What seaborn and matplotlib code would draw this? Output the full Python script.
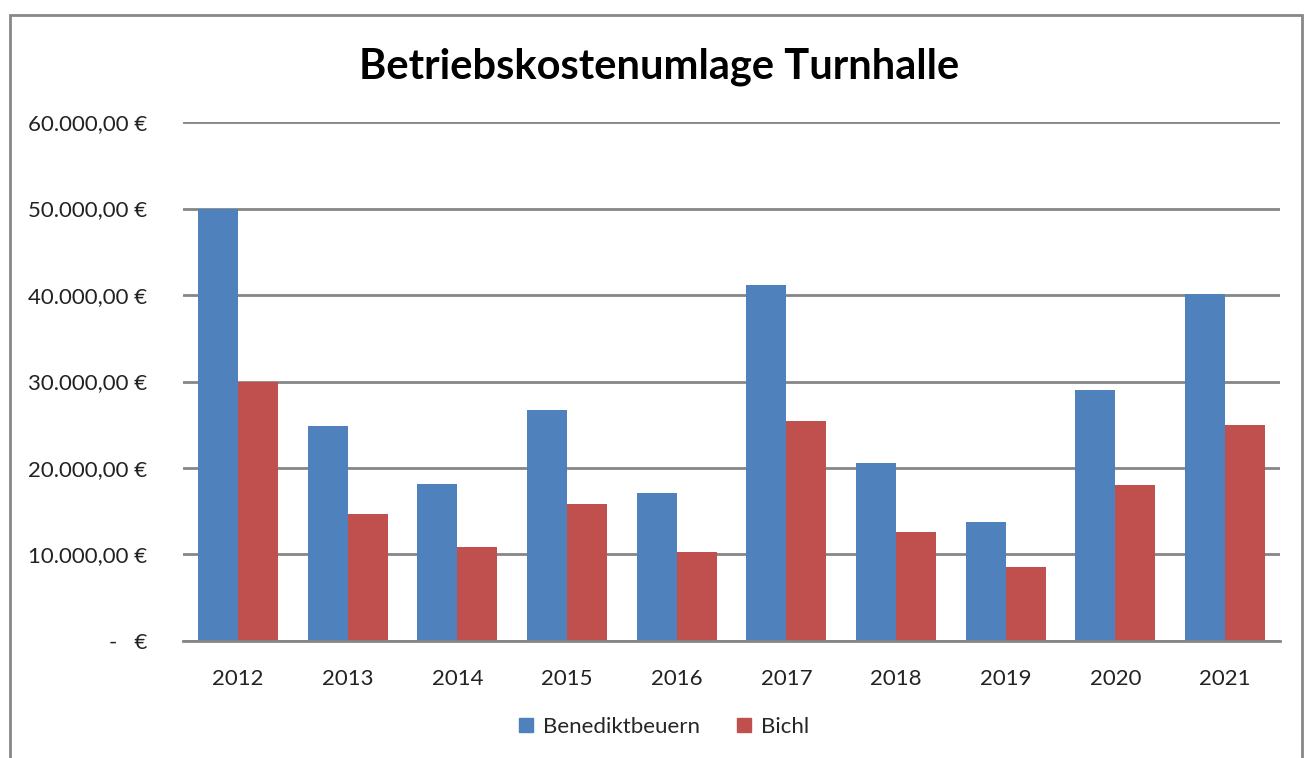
import matplotlib.pyplot as plt
import matplotlib.patches as mpatches
import seaborn as sns
import pandas as pd

# Betriebskostenumlage Turnhalle - Daten
jahre = ["2012", "2013", "2014", "2015", "2016", "2017", "2018", "2019", "2020", "2021"]
benediktbeuern = [50000, 24800, 18130, 26740, 17130, 41130, 20530, 13780, 28980, 40090]
bichl = [30000, 14660, 10840, 15780, 10230, 25460, 12620, 8530, 17990, 24930]
gemeinden = ["Benediktbeuern", "Bichl"]
y_ticks = [0, 10000, 20000, 30000, 40000, 50000, 60000]

sns.set_style("white")
plt.rcParams['font.family'] = ['Lato', 'DejaVu Sans']

df = pd.DataFrame({
    "Jahr": jahre * 2,
    "Betrag": benediktbeuern + bichl,
    "Gemeinde": [gemeinden[0]] * len(jahre) + [gemeinden[1]] * len(jahre),
})

palette = {"Benediktbeuern": "#4f81bd", "Bichl": "#c0504d"}

fig = plt.figure(figsize=(13.1, 7.58), dpi=100)
ax = fig.add_axes([0.1397, 0.1544, 0.8374, 0.6846])

sns.barplot(data=df, x="Jahr", y="Betrag", hue="Gemeinde", palette=palette,
            width=0.73, saturation=1, ax=ax, legend=False,
            edgecolor="none")

# Achsen & Gitter
ax.set_ylim(0, 60000)
ax.set_xlim(-0.5, len(jahre) - 0.5)
ax.set_yticks(y_ticks)


def euro(v):
    if v == 0:
        return "-   €"
    return f"{v:,.2f}".replace(",", "X").replace(".", ",").replace("X", ".") + " €"


ax.set_yticklabels([euro(v) for v in y_ticks], fontsize=16, color="#222222")
ax.tick_params(axis="x", labelsize=16, colors="#222222", length=0, pad=20)
ax.tick_params(axis="y", length=0, pad=26)
ax.set_xlabel("")
ax.set_ylabel("")
ax.grid(axis="y", color="#868686", linewidth=2)
ax.set_axisbelow(True)
for s in ["left", "right", "top"]:
    ax.spines[s].set_visible(False)
ax.spines["bottom"].set_color("#868686")
ax.spines["bottom"].set_linewidth(2)

fig.text(0.503, 0.912, "Betriebskostenumlage Turnhalle", ha="center", va="center",
         fontsize=30, fontweight="bold", color="black")

handles = [plt.Line2D([], [], marker="s", linestyle="none", markersize=10,
                      color=palette[g]) for g in gemeinden]
fig.legend(handles, gemeinden, loc="center", bbox_to_anchor=(0.506, 0.041),
           ncol=2, frameon=False, fontsize=16, handlelength=0.8,
           handletextpad=0.35, columnspacing=1.6)

# Rahmen um das Diagramm
fig.patches.append(mpatches.Rectangle((10 / 1310, -0.01), 1292 / 1310, 1 - 15 / 758 + 0.01,
                                      transform=fig.transFigure, fill=False,
                                      edgecolor="#888888", linewidth=2))

fig.savefig("out.png", dpi=100)
